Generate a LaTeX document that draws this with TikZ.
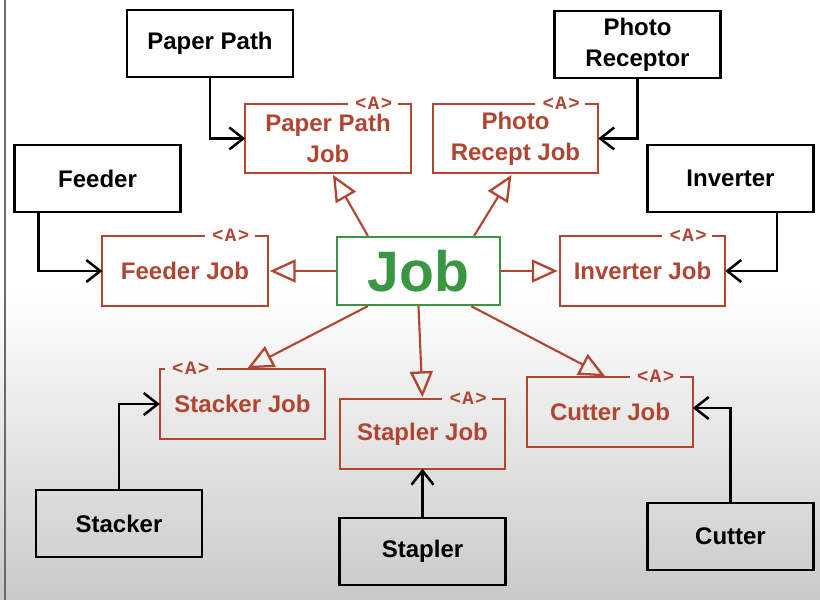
\documentclass[tikz,border=0pt]{standalone}
\usepackage{fontspec}
\setmainfont{Liberation Sans}
\newfontfamily\amono{Liberation Mono}
\usetikzlibrary{arrows.meta,calc}
\definecolor{umlred}{RGB}{176,70,50}
\definecolor{umlgreen}{RGB}{58,150,66}
\definecolor{edgegray}{RGB}{105,105,115}
\newcommand\absR[1]{%
  \draw[redline] ($(#1.north east)+(-13,0)$) -- (#1.north east) -- (#1.south east) -- (#1.south west) -- (#1.north west) -- ($(#1.north east)+(-63,0)$);
  \node[anote] (#1-a) at ($(#1.north east)+(-37,-1)$) {<\hspace{1.5pt}A\hspace{1.5pt}>};}
\newcommand\absL[1]{%
  \draw[redline] ($(#1.north west)+(5,0)$) -- (#1.north west) -- (#1.south west) -- (#1.south east) -- (#1.north east) -- ($(#1.north west)+(57,0)$);
  \node[anote] (#1-a) at ($(#1.north west)+(31,-1)$) {<\hspace{1.5pt}A\hspace{1.5pt}>};}
\tikzset{
  labelfont/.style={font=\bfseries\fontsize{24}{31}\selectfont},
  classbox/.style={labelfont, draw=black, line width=2.4pt, minimum width=166pt, minimum height=67pt, align=center, inner sep=2pt},
  jobnode/.style={labelfont, text=umlred, minimum width=165pt, minimum height=69pt, align=center, inner sep=2pt},
  redline/.style={draw=umlred, line width=2.1pt, line join=miter},
  anote/.style={font=\amono\bfseries\fontsize{19}{19}\selectfont, text=umlred, inner sep=0pt},
  basebox/.style={draw=umlgreen, line width=2.2pt, text=umlgreen, font=\bfseries\fontsize{57}{57}\selectfont, minimum width=163pt, minimum height=68pt, inner sep=0pt},
  gen/.style={draw=umlred, line width=2.1pt, shorten >=2pt, -{Triangle[open, length=26pt, width=23pt, line width=2.3pt]}},
  uses/.style={draw=black, line width=2.4pt, -{Straight Barb[length=14pt, width=22pt, line width=2.5pt]}},
}
\begin{document}
\begin{tikzpicture}[x=1pt, y=-1pt]
\useasboundingbox (0,0) rectangle (820,600);
\fill[white] (0,0) rectangle (820,290);
\shade[top color=white, bottom color=black!21] (0,289) rectangle (820,600);
\fill[edgegray] (3.5,0) rectangle (6,600);

% central class
\node[basebox] (job) at (418.5,271) {Job};

% abstract job classes
\node[jobnode] (ppj) at (328,138.5) {Paper Path\\Job};
\node[jobnode] (prj) at (515.5,138.5) {Photo\\Recept Job};
\node[jobnode] (fj) at (185,271) {Feeder Job};
\node[jobnode] (ij) at (642.5,271) {Inverter Job};
\node[jobnode] (sj) at (242.5,404) {Stacker Job};
\node[jobnode] (spj) at (422.5,434) {Stapler Job};
\node[jobnode] (cj) at (610,412) {Cutter Job};
\absR{ppj}
\absR{prj}
\absR{fj}
\absR{ij}
\absL{sj}
\absR{spj}
\absR{cj}

% device classes
\node[classbox] (pp) at (210,43.5) {Paper Path};
\node[classbox] (pr) at (637.5,44.5) {Photo\\Receptor};
\node[classbox] (fe) at (97.5,178.5) {Feeder};
\node[classbox] (inv) at (730.5,178.5) {Inverter};
\node[classbox] (stk) at (119,523.5) {Stacker};
\node[classbox] (stp) at (422.5,551.5) {Stapler};
\node[classbox] (cut) at (730.5,536.5) {Cutter};

% generalizations
\draw[gen] ($(job.north west)+(32,0)$) -- ($(ppj.south)+(4,0)$);
\draw[gen] ($(job.north east)+(-27,0)$) -- ($(prj.south)+(-3,0)$);
\draw[gen] (job.west) -- (fj.east);
\draw[gen] (job.east) -- (ij.west);
\draw[gen] ($(job.south west)+(32,0)$) -- ($(sj.north)+(3,0)$);
\draw[gen] (job.south) -- (spj.north);
\draw[gen] ($(job.south east)+(-30,0)$) -- ($(cj.north)+(-3,0)$);

% associations
\draw[uses] (pp.south) |- (ppj.west);
\draw[uses] (pr.south) |- (prj.east);
\draw[uses] ($(fe.south west)+(25,0)$) |- (fj.west);
\draw[uses] ($(inv.south east)+(-38,0)$) |- (ij.east);
\draw[uses] (stk.north) |- (sj.west);
\draw[uses] (stp.north) -- (spj.south);
\draw[uses] (cut.north) |- ($(cj.east)+(0,-4)$);
\end{tikzpicture}
\end{document}
